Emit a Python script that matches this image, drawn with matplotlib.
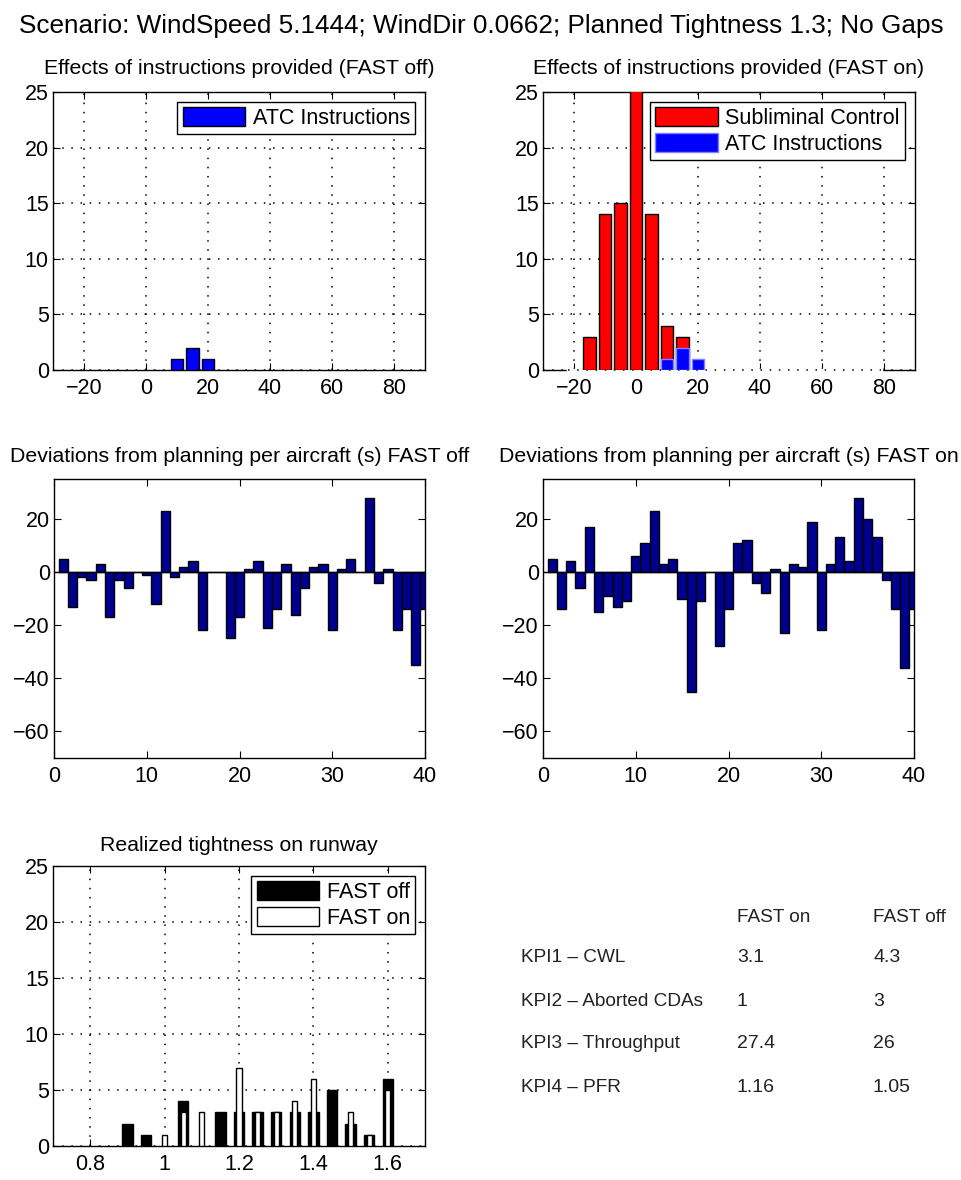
import numpy as np
import matplotlib
matplotlib.use('Agg')
import matplotlib.pyplot as plt
from matplotlib.patches import Patch

plt.rcParams['font.family'] = ['Liberation Sans', 'DejaVu Sans']

SUPTITLE = 'Scenario: WindSpeed 5.1444; WindDir 0.0662; Planned Tightness 1.3; No Gaps'

# effects of instructions (histogram bin centres and counts)
instr_off_bins = [10, 15, 20]
instr_off_atc = [1, 2, 1]
instr_on_bins = [-15, -10, -5, 0, 5, 10, 15, 20]
instr_on_subliminal = [3, 14, 15, 27, 14, 4, 3, 0]
instr_on_atc = [0, 0, 0, 0, 0, 1, 2, 1]

# deviations from planning per aircraft (s)
aircraft = list(range(1, 41))
dev_off = [5, -13, -2, -3, 3, -17, -3, -6, 0, -1,
           -12, 23, -2, 2, 4, -22, 0, 0, -25, -17,
           1, 4, -21, -14, 3, -16, -6, 2, 3, -22,
           1, 5, 0, 28, -4, 1, -22, -14, -35, -14]
dev_on = [5, -14, 4, -6, 17, -15, -9, -13, -11, 6,
          11, 23, 3, 5, -10, -45, -11, 0, -28, -14,
          11, 12, -4, -8, 1, -23, 3, 2, 19, -22,
          3, 13, 4, 28, 20, 13, -3, -14, -36, -14]

# realized tightness on runway
tight_bins = [0.9, 0.95, 1.0, 1.05, 1.1, 1.15, 1.2, 1.25,
              1.3, 1.35, 1.4, 1.45, 1.5, 1.55, 1.6]
tight_off = [2, 1, 0, 4, 0, 3, 3, 3, 3, 3, 3, 5, 2, 1, 6]
tight_on = [0, 0, 1, 3, 3, 0, 7, 3, 3, 4, 6, 0, 3, 1, 5]

# KPI table
kpi_names = ['KPI1 \u2013 CWL', 'KPI2 \u2013 Aborted CDAs',
             'KPI3 \u2013 Throughput', 'KPI4 \u2013 PFR']
kpi_fast_on = ['3.1', '1', '27.4', '1.16']
kpi_fast_off = ['4.3', '3', '26', '1.05']

W, H = 961, 1180
TICK_FS = 15.5
TITLE_FS = 15.3


def axes_at(fig, left, top, right, bottom):
    return fig.add_axes([left / W, 1 - bottom / H,
                         (right - left) / W, (bottom - top) / H])


def matlab_style(ax, grid=False):
    ax.tick_params(direction='in', top=True, right=True, length=5,
                   width=0.8, labelsize=TICK_FS, colors='black')
    ax.tick_params(axis='y', pad=3)
    ax.tick_params(axis='x', pad=6)
    for s in ax.spines.values():
        s.set_linewidth(1.0)
    if grid:
        ax.grid(True, color='black', linestyle=(0, (1, 5)), linewidth=1.1)
        ax.set_axisbelow(False)


def sel(xs, ys):
    xs = np.asarray(xs, dtype=float)
    ys = np.asarray(ys, dtype=float)
    keep = ys > 0
    return xs[keep], ys[keep]


def legend_box(ax, handles, labels, **kw):
    leg = ax.legend(handles, labels, loc='upper right', fontsize=TICK_FS,
                    handlelength=2.9, handleheight=0.95, handletextpad=0.35,
                    borderpad=0.25, labelspacing=0.2, borderaxespad=0.45,
                    fancybox=False, framealpha=1, edgecolor='black', **kw)
    leg.get_frame().set_linewidth(1.0)
    return leg


fig = plt.figure(figsize=(W / 100, H / 100), dpi=100)
fig.text(481 / W, 1 - 26 / H, SUPTITLE, ha='center', va='center',
         fontsize=18.8)

# top left: instructions FAST off
ax = axes_at(fig, 53, 92, 425, 370)
x, y = sel(instr_off_bins, instr_off_atc)
ax.bar(x, y, width=4, color='#0000ff', edgecolor='black', linewidth=1.0,
       zorder=3)
ax.set_xlim(-30, 90)
ax.set_ylim(0, 25)
ax.set_xticks([-20, 0, 20, 40, 60, 80])
ax.set_yticks([0, 5, 10, 15, 20, 25])
matlab_style(ax, grid=True)
ax.set_title('Effects of instructions provided (FAST off)',
             fontsize=TITLE_FS, pad=13)
legend_box(ax, [Patch(facecolor='#0000ff', edgecolor='black')],
           ['ATC Instructions'])

# top right: instructions FAST on
ax = axes_at(fig, 543, 92, 915, 370)
ax.plot([-22, 79], [0, 0], color='white', linewidth=2.5, zorder=2.6,
        clip_on=False)
ax.plot([-22, 79], [0, 0], color='black', linestyle=(0, (1, 5)),
        linewidth=1.1, zorder=2.7, clip_on=False)
x, y = sel(instr_on_bins, instr_on_subliminal)
ax.bar(x, y, width=4, color='#ff0000', edgecolor='black', linewidth=1.0,
       zorder=3)
x, y = sel(instr_on_bins, instr_on_atc)
ax.bar(x, y, width=4, color='#0000ff', edgecolor='#8080ff', linewidth=1.0,
       zorder=3.5)
ax.set_xlim(-30, 90)
ax.set_ylim(0, 25)
ax.set_xticks([-20, 0, 20, 40, 60, 80])
ax.set_yticks([0, 5, 10, 15, 20, 25])
matlab_style(ax, grid=True)
ax.set_title('Effects of instructions provided (FAST on)',
             fontsize=TITLE_FS, pad=13)
legend_box(ax, [Patch(facecolor='#ff0000', edgecolor='black'),
                Patch(facecolor='#0000ff', edgecolor='#8080ff')],
           ['Subliminal Control', 'ATC Instructions'])

# middle: deviations per aircraft
for (left, right), values, label in [((54, 425), dev_off, 'FAST off'),
                                     ((543, 914), dev_on, 'FAST on')]:
    ax = axes_at(fig, left, 479, right, 758)
    ax.bar(aircraft, values, width=1.0, color='#00008f', edgecolor='black',
           linewidth=1.0, zorder=3)
    ax.axhline(0, color='black', linewidth=1.0, zorder=4)
    ax.set_xlim(0, 40)
    ax.set_ylim(-70, 35)
    ax.set_xticks([0, 10, 20, 30, 40])
    ax.set_yticks([-60, -40, -20, 0, 20])
    matlab_style(ax)
    ax.set_title(f'Deviations from planning per aircraft (s) {label}',
                 fontsize=TITLE_FS, pad=12)

# bottom left: realized tightness
ax = axes_at(fig, 53, 866, 425, 1146)
x, y = sel(tight_bins, tight_off)
ax.bar(x, y, width=0.028, color='black', edgecolor='black', linewidth=1.0,
       zorder=3)
x, y = sel(tight_bins, tight_on)
ax.bar(x, y, width=0.014, color='white', edgecolor='black', linewidth=1.0,
       zorder=3.5)
ax.set_xlim(0.7, 1.7)
ax.set_ylim(0, 25)
ax.set_xticks([0.8, 1.0, 1.2, 1.4, 1.6])
ax.set_xticklabels(['0.8', '1', '1.2', '1.4', '1.6'])
ax.set_yticks([0, 5, 10, 15, 20, 25])
matlab_style(ax, grid=True)
ax.set_title('Realized tightness on runway', fontsize=TITLE_FS, pad=11)
legend_box(ax, [Patch(facecolor='black', edgecolor='black'),
                Patch(facecolor='white', edgecolor='black')],
           ['FAST off', 'FAST on'])

# bottom right: KPI table
tbl_kw = dict(fontsize=13.7, color='#222222', va='center', ha='left')
fig.text(737 / W, 1 - 917 / H, 'FAST on', **tbl_kw)
fig.text(873 / W, 1 - 917 / H, 'FAST off', **tbl_kw)
for i, name in enumerate(kpi_names):
    yy = 1 - (958 + i * 43) / H
    fig.text(521 / W, yy, name, **tbl_kw)
    fig.text(737 / W, yy, kpi_fast_on[i], **dict(tbl_kw, fontsize=14))
    fig.text(873 / W, yy, kpi_fast_off[i], **dict(tbl_kw, fontsize=14))

fig.savefig('out.png', dpi=100)
